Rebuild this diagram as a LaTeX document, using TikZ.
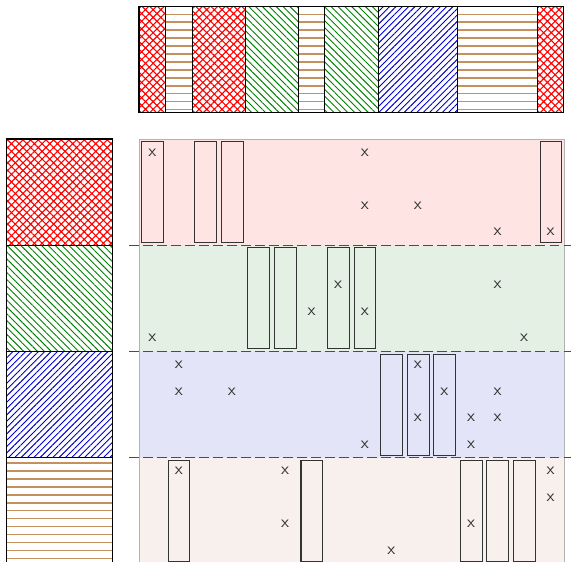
\documentclass[tikz,border=0pt]{standalone}
\usepackage{amsmath}
\definecolor{Redcol}{HTML}{FF0000}
\definecolor{Greencol}{HTML}{008000}
\definecolor{Bluecol}{HTML}{0000CC}
\definecolor{Browncol}{HTML}{C4905E}
\definecolor{Redbg}{HTML}{FFE4E4}
\definecolor{Greenbg}{HTML}{E4F0E4}
\definecolor{Bluebg}{HTML}{E4E4F8}
\definecolor{Brownbg}{HTML}{F8F0EC}
\definecolor{Textcol}{HTML}{333333}
\usetikzlibrary{patterns.meta}
\tikzset{
    font=\sffamily,
    redhatch/.style={pattern={Hatch[angle=45, distance=2.9pt, line width=0.6pt]}, pattern color=Redcol},
    greenhatch/.style={pattern={Lines[angle=-45, distance=2.6pt, line width=0.5pt]}, pattern color=Greencol},
    bluehatch/.style={pattern={Lines[angle=45, distance=2.4pt, line width=0.5pt]}, pattern color=Bluecol},
    brownline/.style={draw=Browncol, line width=0.7pt},
    slot/.style={draw=black!80, line width=0.55pt},
    xmark/.style={text=Textcol, font=\sffamily\small, inner sep=0pt},
    split/.style={draw=black!70, line width=0.6pt, dash pattern=on 5pt off 2.5pt}
}

\begin{document}
\begin{tikzpicture}[x=0.5cm, y=0.5cm]
    \useasboundingbox (-5.233,5.233) rectangle (16.265,-15.889);

    % Top bar, brown runs get plain horizontal lines
    \foreach \c/\w in {1/1, 6/1, 12/3}
        \foreach \k in {1,...,13}
            \draw[brownline] (\c,5-0.3*\k) -- ++(\w,0);
    \foreach \c/\w/\st in {0/1/redhatch, 2/2/redhatch, 4/2/greenhatch,
                           7/2/greenhatch, 9/3/bluehatch, 15/1/redhatch}
        \draw[\st, line width=0.55pt] (\c,1) rectangle ++(\w,4);
    \foreach \c/\w in {1/1, 6/1, 12/3}
        \draw[line width=0.55pt] (\c,1) rectangle ++(\w,4);

    % Left bar, one block per band
    \foreach \r/\st in {0/redhatch, 1/greenhatch, 2/bluehatch}
        \draw[\st, line width=0.55pt] (-5,-4*\r) rectangle ++(4,-4);
    \foreach \k in {0,...,13}
        \draw[brownline] (-5,-12.2-0.3*\k) -- ++(4,0);
    \draw[line width=0.55pt] (-5,-12) rectangle ++(4,-4);

    % Band backgrounds
    \foreach \r/\bg in {0/Redbg, 1/Greenbg, 2/Bluebg, 3/Brownbg}
        \fill[\bg] (0,-4*\r) rectangle ++(16,-4);
    \draw[black!30] (0,0) rectangle (16,-16);

    % Dashed band borders
    \foreach \r in {1,2,3}
        \draw[split] (-0.36,-4*\r) -- (16.3,-4*\r);

    % Slots
    \foreach \r/\c/\bg in {0/0/Redbg, 0/2/Redbg, 0/3/Redbg, 0/15/Redbg,
                           1/4/Greenbg, 1/5/Greenbg, 1/7/Greenbg, 1/8/Greenbg,
                           2/9/Bluebg, 2/10/Bluebg, 2/11/Bluebg,
                           3/1/Brownbg, 3/6/Brownbg, 3/12/Brownbg, 3/13/Brownbg, 3/14/Brownbg}
        \draw[slot, fill=\bg] (\c+0.1,-4*\r-0.1) rectangle (\c+0.92,-4*\r-3.9);

    % Marks
    \foreach \c/\j in {0/0, 8/0, 8/2, 10/2, 13/3, 15/3,
                       0/7, 7/5, 6/6, 8/6, 13/5, 14/7,
                       1/8, 1/9, 3/9, 10/8, 11/9, 13/9, 10/10, 12/10, 13/10, 8/11, 12/11,
                       1/12, 5/12, 5/14, 12/14, 15/12, 15/13, 9/15}
        \node[xmark] (x\c-\j) at (\c+0.5,-\j-0.5) {x};
\end{tikzpicture}
\end{document}
